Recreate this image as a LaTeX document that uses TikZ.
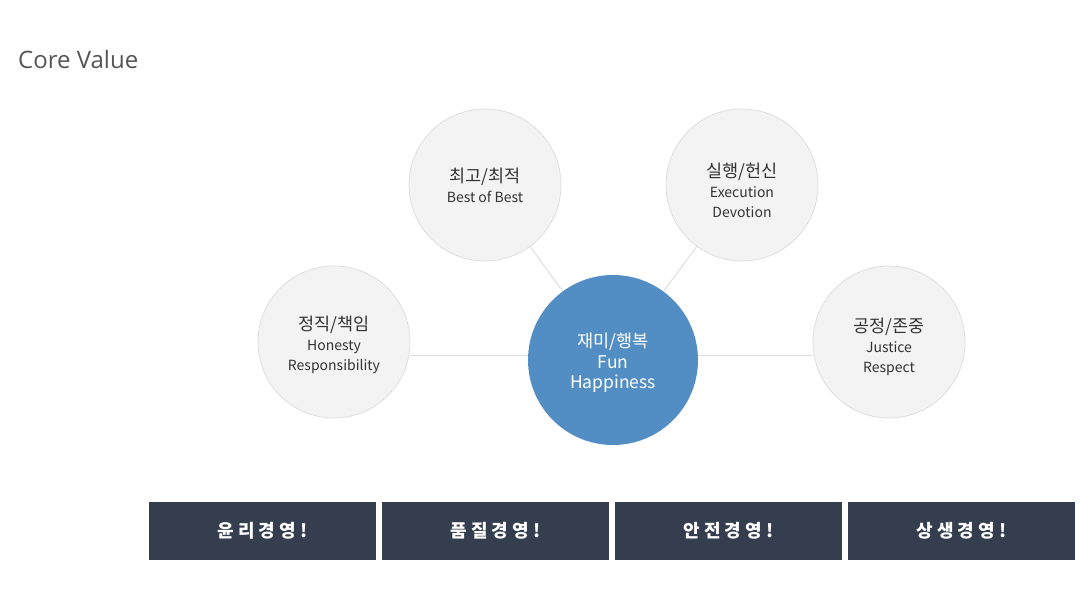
\documentclass[tikz,border=0pt]{standalone}
\usepackage{fontspec}
\setmainfont{Noto Sans CJK KR}
\newfontfamily\latinfont{Open Sans}
\usetikzlibrary{backgrounds}
\definecolor{cfill}{HTML}{F3F3F3}
\definecolor{cline}{HTML}{DEDEDE}
\definecolor{cblue}{HTML}{528EC4}
\definecolor{cbox}{HTML}{353E4E}
\definecolor{ctext}{HTML}{333333}
\definecolor{ctitle}{HTML}{555555}
\newcommand{\kor}[1]{{\fontsize{17.5}{22}\selectfont #1}}
\begin{document}
\begin{tikzpicture}[x=1pt,y=-1pt,
  val/.style={circle,fill=cfill,draw=cline,line width=0.8pt,minimum size=152pt,inner sep=0pt},
  valtext/.style={align=center,inner sep=0pt,text=ctext,font=\fontsize{14}{20}\selectfont},
  core/.style={circle,fill=cblue,minimum size=170pt,inner sep=0pt},
  coretext/.style={align=center,inner sep=0pt,text=white,font=\fontsize{17.5}{20.5}\selectfont},
  bar/.style={fill=cbox,minimum width=227pt,minimum height=58pt,inner sep=0pt,text=white,font=\bfseries\fontsize{18}{20}\selectfont},
  link/.style={draw=cline,line width=1pt}]
\path[use as bounding box] (0,0) rectangle (1084,599);

\node[anchor=base west,text=ctitle,font=\latinfont\fontsize{24}{26}\selectfont,inner sep=0pt] (title) at (18,69) {Core Value};

\node[core] (c) at (613,360) {};
\node[coretext] (ct) at (613,363) {재미/행복\\Fun\\Happiness};

\node[val] (tl) at (485,185) {};
\node[valtext] (tlt) at (485,185) {\kor{최고/최적}\\Best of Best};
\node[val] (tr) at (742,185) {};
\node[valtext] (trt) at (742,190) {\kor{실행/헌신}\\Execution\\Devotion};
\node[val] (l) at (334,342) {};
\node[valtext] (lt) at (334,345) {\kor{정직/책임}\\Honesty\\Responsibility};
\node[val] (r) at (889,342) {};
\node[valtext] (rt) at (889,347) {\kor{공정/존중}\\Justice\\Respect};

\coordinate (h) at (613,355);
\begin{scope}[on background layer]
  \draw[link] (tl) -- (c);
  \draw[link] (tr) -- (c);
  \draw[link] (l.east |- h) -- (h);
  \draw[link] (h) -- (r.west |- h);
\end{scope}

\node[bar] (b1) at (262.5,531) {윤 리 경 영 !};
\node[bar] (b2) at (495.5,531) {품 질 경 영 !};
\node[bar] (b3) at (728.5,531) {안 전 경 영 !};
\node[bar] (b4) at (961.5,531) {상 생 경 영 !};
\end{tikzpicture}
\end{document}
